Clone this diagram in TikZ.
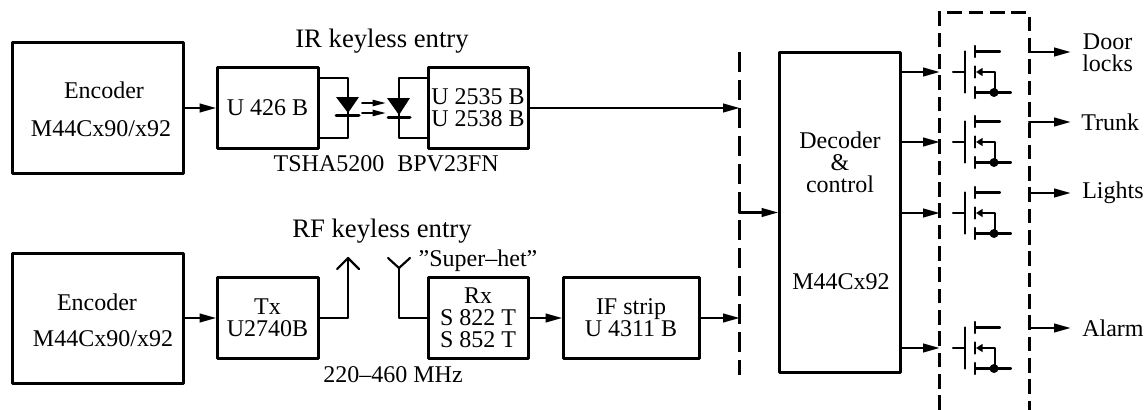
\documentclass[tikz,border=0pt]{standalone}
\usepackage{fontspec}
\setmainfont{Liberation Serif}
\usetikzlibrary{arrows.meta}
\tikzset{
  blockbox/.style={draw,line width=2.25pt,inner sep=0pt,align=center},
  caption/.style={inner sep=0pt,align=center},
  title/.style={caption,font=\fontsize{20}{22}\selectfont},
  wire/.style={line width=1.6pt},
  flow/.style={wire,-{Triangle[length=12.5pt,width=6.5pt]},shorten >=-0.5pt},
  busline/.style={line width=2.25pt,line cap=butt,dash pattern=on 15pt off 6pt},
  switchbus/.style={line width=2.25pt,line cap=butt,line join=miter,dash pattern=on 11pt off 5pt}
}
\begin{document}
\begin{tikzpicture}[x=0.75pt,y=-0.75pt,line cap=round,line join=round,font=\fontsize{18}{16.5}\selectfont]
  \useasboundingbox (0,0) rectangle (1148,410);
  % blocks
  \node[blockbox,minimum width=128.25pt,minimum height=97.5pt] (encA) at (97.5,108) {};
  \node[blockbox,minimum width=128.25pt,minimum height=97.5pt] (encB) at (97.5,318) {};
  \node[blockbox,minimum width=75.75pt,minimum height=60.75pt] (txIR) at (267.5,108) {U 426 B};
  \node[blockbox,minimum width=75pt,minimum height=60.75pt] (rxIR) at (478,108) {U 2535 B\\U 2538 B};
  \node[blockbox,minimum width=75.75pt,minimum height=60.75pt] (txRF) at (267.5,318) {Tx\hspace{9pt}\\U2740B};
  \node[blockbox,minimum width=75pt,minimum height=60.75pt] (rxRF) at (478,318) {Rx\\S 822 T\\S 852 T};
  \node[blockbox,minimum width=102pt,minimum height=60.75pt] (ifstrip) at (631,318) {IF strip\\U 4311 B};
  \node[blockbox,minimum width=90.75pt,minimum height=239.25pt] (decoder) at (839.5,212.5) {};
  % texts
  \node[title] (irTitle) at (382,41) {IR keyless entry};
  \node[title] (rfTitle) at (382,231) {RF keyless entry};
  \node[caption] (encAname) at (104,90) {Encoder};
  \node[caption] (encApart) at (101,129) {M44Cx90/x92};
  \node[caption] (encBname) at (97,302) {Encoder};
  \node[caption] (encBpart) at (103,339) {M44Cx90/x92};
  \node[caption] (tsha) at (329,164) {TSHA5200};
  \node[caption] (bpv) at (448,164) {BPV23FN};
  \node[caption] (superhet) at (478,261) {”Super–het”};
  \node[caption] (band) at (393,375) {220–460 MHz};
  \node[caption] (decText) at (840,162) {Decoder\\\&\hspace{8pt}\\control};
  \node[caption] (decPart) at (841,282) {M44Cx92};
  \node[caption,anchor=west] (door) at (1082,53) {Door\\locks};
  \node[caption,anchor=west] (trunk) at (1081,122) {Trunk};
  \node[caption,anchor=west] (lights) at (1082,193) {Lights};
  \node[caption,anchor=west] (alarm) at (1082,328) {Alarm};
  % dashed buses
  \coordinate (busTop) at (739,52);
  \coordinate (busBot) at (739,375);
  \draw[busline] (busTop) -- (busBot);
  \draw[switchbus] (939,410) -- (939,13) -- (1029,13) -- (1029,410);
  % left side connectors
  \draw[flow] (encA) -- (txIR);
  \draw[flow] (encB) -- (txRF);
  \draw[flow] (rxIR.east) -- (rxIR.east -| busTop);
  \draw[flow] (ifstrip.east) -- (ifstrip.east -| busTop);
  \draw[flow] (rxRF) -- (ifstrip);
  \draw[flow] (busTop |- decoder.west) -- (decoder.west);
  % optocoupler
  \coordinate (ledX) at (348,78);
  \coordinate (pinX) at (399,78);
  \draw[wire] (txIR.east |- ledX) -- (ledX) -- (348,138) -- (txIR.east |- 348,138);
  \draw[wire] (rxIR.west |- pinX) -- (pinX) -- (399,138) -- (rxIR.west |- 399,138);
  \fill (336,97) -- (359,97) -- (348,113) -- cycle;
  \fill (387,98) -- (410,98) -- (399,115) -- cycle;
  \draw[line width=2.25pt] (336,115.5) -- (359,115.5);
  \draw[line width=2.25pt] (388,117.5) -- (410,117.5);
  \foreach \rayY in {103,113}
    \draw[line width=1.5pt,-{Triangle[length=10pt,width=4.5pt]}] (362,\rayY) -- (386,\rayY);
  % antennas
  \coordinate (antTx) at (348,258);
  \coordinate (antRx) at (399,268);
  \draw[wire] (txRF) -- (txRF -| antTx) -- (antTx);
  \draw[wire] (337,269) -- (antTx) -- (359,269);
  \draw[wire] (rxRF) -- (rxRF -| antRx) -- (antRx);
  \draw[wire] (388,258) -- (antRx) -- (410,258);
  % output switches
  \foreach \gateY/\outY in {72/52,142/122,213/193,348/328} {
    \coordinate (gate) at (939,\gateY);
    \coordinate (out) at (1029,\outY);
    \draw[flow] (decoder.east |- gate) -- (gate);
    \draw[flow] (out) -- +(41,0);
    \draw[wire] (953,\gateY) -- (965,\gateY);
    \draw[wire] (965,\gateY-20.5) -- (965,\gateY+20.5);
    \draw[wire] (975,\gateY-26) -- (975,\gateY-15);
    \draw[wire] (975,\gateY-20.5) -- (1000,\gateY-20.5);
    \draw[wire] (975,\gateY-5.5) -- (975,\gateY+5.5);
    \draw[wire,-{Triangle[length=5pt,width=6pt]}] (995,\gateY+20.5) -- (995,\gateY) -- (976,\gateY);
    \draw[wire] (975,\gateY+15) -- (975,\gateY+26);
    \draw[wire] (975,\gateY+20.5) -- (1011,\gateY+20.5);
    \fill (994,\gateY+20.5) circle[radius=4.5];
  }
\end{tikzpicture}
\end{document}
